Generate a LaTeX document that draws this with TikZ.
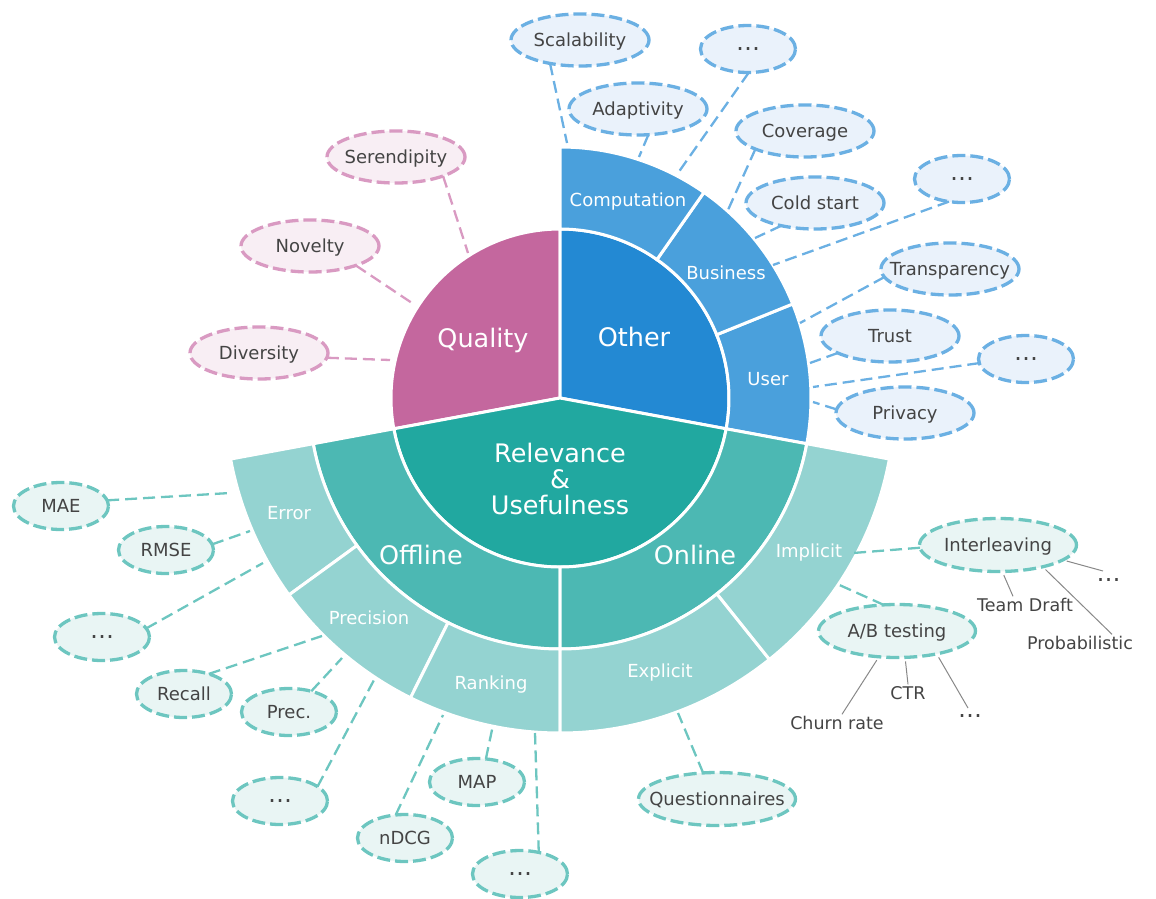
\documentclass[tikz,border=0pt]{standalone}
\usepackage{fontspec}
\setmainfont{DejaVu Sans}
\usetikzlibrary{shapes.geometric}
\definecolor{cQual}{HTML}{C4679E}
\definecolor{cOther}{HTML}{2389D3}
\definecolor{cOtherB}{HTML}{4AA0DC}
\definecolor{cRel}{HTML}{21A8A0}
\definecolor{cRelB}{HTML}{4CB8B3}
\definecolor{cRelC}{HTML}{94D3D1}
\definecolor{bLine}{HTML}{6BB0E3}
\definecolor{bFill}{HTML}{EAF2FB}
\definecolor{pLine}{HTML}{D99AC2}
\definecolor{pFill}{HTML}{F8EEF4}
\definecolor{tLine}{HTML}{6DC6C0}
\definecolor{tFill}{HTML}{E9F5F4}
\definecolor{txt}{HTML}{444444}
\definecolor{gLn}{HTML}{888888}
\newcommand\lbx[1]{\makebox[0pt]{#1}}
\newcommand\mdots{{\fontsize{24}{24}\selectfont\raisebox{4.8pt}{…}}}
\newcommand\ringsec[5]{\filldraw[sector, fill=#1] (#2:#4) arc[start angle=#2, end angle=#3, radius=#4] -- (#3:#5) arc[start angle=#3, end angle=#2, radius=#5] -- cycle;}
\begin{document}
\begin{tikzpicture}[x=1pt, y=-1pt,
  leaf/.style={ellipse, line width=3.3pt, dash pattern=on 13pt off 5pt, inner sep=0pt, outer sep=0pt,
    minimum width=138pt, minimum height=52pt, text=txt, font=\fontsize{18}{18}\selectfont, text height=13pt, text depth=0pt},
  bleaf/.style={leaf, draw=bLine, fill=bFill},
  pleaf/.style={leaf, draw=pLine, fill=pFill},
  tleaf/.style={leaf, draw=tLine, fill=tFill},
  leafS/.style={minimum width=95pt, minimum height=47pt},
  leafW/.style={minimum width=157pt, minimum height=53pt},
  conn/.style={line width=2.3pt, dash pattern=on 12pt off 6pt},
  bconn/.style={conn, draw=bLine},
  pconn/.style={conn, draw=pLine},
  tconn/.style={conn, draw=tLine},
  sector/.style={draw=white, line width=3pt},
  bigl/.style={text=white, font=\fontsize{25.5}{26}\selectfont, inner sep=0pt, text height=18.6pt, text depth=0pt},
  midl/.style={text=white, font=\fontsize{18}{18}\selectfont, inner sep=0pt, text height=13pt, text depth=0pt},
  glab/.style={text=txt, font=\fontsize{17.5}{18}\selectfont, inner sep=2pt, text height=13pt, text depth=0pt},
  gconn/.style={draw=gLn, line width=1pt, shorten <=4pt}
]
\useasboundingbox (0,0) rectangle (1156,899);

% ---------- sunburst ----------
\begin{scope}[shift={(560,398)}, y=1pt]
  \filldraw[sector, fill=cQual] (0,0) -- (90:169) arc[start angle=90, end angle=190.5, radius=169] -- cycle;
  \filldraw[sector, fill=cOther] (0,0) -- (-10.5:169) arc[start angle=-10.5, end angle=90, radius=169] -- cycle;
  \filldraw[sector, fill=cRel] (0,0) -- (190.5:169) arc[start angle=190.5, end angle=349.5, radius=169] -- cycle;
  \ringsec{cOtherB}{-10.5}{22}{169}{251}
  \ringsec{cOtherB}{22}{55}{169}{251}
  \ringsec{cOtherB}{55}{90}{169}{251}
  \ringsec{cRelB}{190.5}{270}{169}{251}
  \ringsec{cRelB}{270}{349.5}{169}{251}
  \ringsec{cRelC}{190.5}{216}{251}{335}
  \ringsec{cRelC}{216}{243.5}{251}{335}
  \ringsec{cRelC}{243.5}{270}{251}{335}
  \ringsec{cRelC}{270}{308.7}{251}{335}
  \ringsec{cRelC}{308.7}{349.5}{251}{335}
\end{scope}

% ---------- sector labels ----------
\node[bigl] (lQual) at (483,338) {Quality};
\node[bigl] (lOther) at (634,337) {Other};
\node[text=white, font=\fontsize{25.5}{26}\selectfont, inner sep=0pt, align=center] (lRel) at (560,479) {Relevance\\\&\\Usefulness};
\node[bigl] (lOff) at (421,555) {Offline};
\node[bigl] (lOn) at (695,555) {Online};
\node[midl] (lComp) at (628,200) {Computation};
\node[midl] (lBus) at (726,273) {Business};
\node[midl] (lUser) at (768,379) {User};
\node[midl] (lErr) at (289,513) {Error};
\node[midl] (lPrec) at (369,618) {Precision};
\node[midl] (lRank) at (491,683) {Ranking};
\node[midl] (lExp) at (660,671) {Explicit};
\node[midl] (lImp) at (809,551) {Implicit};

% ---------- connector ends at the rings ----------
\coordinate (scal-e) at (567,143);
\coordinate (adap-e) at (639,157);
\coordinate (dotsA-e) at (678,173);
\coordinate (cov-e) at (728,210);
\coordinate (cold-e) at (755,238);
\coordinate (dotsB-e) at (773,265);
\coordinate (trans-e) at (800,323);
\coordinate (trust-e) at (810,363);
\coordinate (dotsC-e) at (813,387);
\coordinate (priv-e) at (813,402);
\coordinate (seren-e) at (468,253);
\coordinate (nov-e) at (415,305);
\coordinate (div-e) at (390,360);
\coordinate (mae-e) at (230,493);
\coordinate (rmse-e) at (250,531);
\coordinate (dotsD-e) at (263,563);
\coordinate (recall-e) at (322,636);
\coordinate (prec-e) at (342,658);
\coordinate (dotsE-e) at (374,680);
\coordinate (ndcg-e) at (443,715);
\coordinate (map-e) at (493,725);
\coordinate (dotsF-e) at (535,733);
\coordinate (quest-e) at (678,713);
\coordinate (inter-e) at (853,553);
\coordinate (ab-e) at (835,583);

% ---------- leaves: Other ----------
\node[bleaf] (scal) at (580,40) {\lbx{Scalability}};
\node[bleaf] (adap) at (638,109) {\lbx{Adaptivity}};
\node[bleaf, leafS] (dotsA) at (748,49) {\lbx{\mdots}};
\node[bleaf] (cov) at (805,131) {\lbx{Coverage}};
\node[bleaf] (cold) at (815,203) {\lbx{Cold start}};
\node[bleaf, leafS] (dotsB) at (962,179) {\lbx{\mdots}};
\node[bleaf] (trans) at (950,269) {\lbx{Transparency}};
\node[bleaf] (trust) at (890,336) {\lbx{Trust}};
\node[bleaf, leafS] (dotsC) at (1026,359) {\lbx{\mdots}};
\node[bleaf] (priv) at (905,413) {\lbx{Privacy}};

% ---------- leaves: Quality ----------
\node[pleaf] (seren) at (396,157) {\lbx{Serendipity}};
\node[pleaf] (nov) at (310,246) {\lbx{Novelty}};
\node[pleaf] (div) at (259,353) {\lbx{Diversity}};

% ---------- leaves: Relevance ----------
\node[tleaf, leafS] (mae) at (61,506) {\lbx{MAE}};
\node[tleaf, leafS] (rmse) at (166,550) {\lbx{RMSE}};
\node[tleaf, leafS] (dotsD) at (102,637) {\lbx{\mdots}};
\node[tleaf, leafS] (recall) at (184,694) {\lbx{Recall}};
\node[tleaf, leafS] (prec) at (289,712) {\lbx{Prec.}};
\node[tleaf, leafS] (dotsE) at (280,801) {\lbx{\mdots}};
\node[tleaf, leafS] (ndcg) at (405,838) {\lbx{nDCG}};
\node[tleaf, leafS] (map) at (477,782) {\lbx{MAP}};
\node[tleaf, leafS] (dotsF) at (520,874) {\lbx{\mdots}};
\node[tleaf, leafW] (quest) at (717,799) {\lbx{Questionnaires}};
\node[tleaf, leafW] (inter) at (998,545) {\lbx{Interleaving}};
\node[tleaf, leafW] (ab) at (897,631) {\lbx{A/B testing}};

% ---------- connectors ----------
\draw[bconn] (scal.218.7) -- (scal-e);
\draw[bconn] (adap.292.5) -- (adap-e);
\draw[bconn] (dotsA.272) -- (dotsA-e);
\draw[bconn] (cov.200.2) -- (cov-e);
\draw[bconn] (cold.214.4) -- (cold-e);
\draw[bconn] (dotsB.240) -- (dotsB-e);
\draw[bconn] (trans.187.3) -- (trans-e);
\draw[bconn] (trust.198.4) -- (trust-e);
\draw[bconn] (dotsC.185.3) -- (dotsC-e);
\draw[bconn] (priv.177.5) -- (priv-e);
\draw[pconn] (seren.338) -- (seren-e);
\draw[pconn] (nov.337.1) -- (nov-e);
\draw[pconn] (div.356.9) -- (div-e);
\draw[tconn] (mae.7) -- (mae-e);
\draw[tconn] (rmse.7.7) -- (rmse-e);
\draw[tconn] (dotsD.11.1) -- (dotsD-e);
\draw[tconn] (recall.39.4) -- (recall-e);
\draw[tconn] (prec.43) -- (prec-e);
\draw[tconn] (dotsE.21.4) -- (dotsE-e);
\draw[tconn] (ndcg.112.5) -- (ndcg-e);
\draw[tconn] (map.69.7) -- (map-e);
\draw[tconn] (dotsF.49.6) -- (dotsF-e);
\draw[tconn] (quest.118) -- (quest-e);
\draw[tconn] (inter.182) -- (inter-e);
\draw[tconn] (ab.117) -- (ab-e);

% ---------- gray sub-labels ----------
\node[glab] (td) at (1025,605) {Team Draft};
\node[glab] (prob) at (1080,643) {Probabilistic};
\node[glab, inner sep=0pt] (dI) at (1108.5,580) {\mdots};
\node[glab] (ctr) at (908,693) {CTR};
\node[glab] (churn) at (837,723) {Churn rate};
\node[glab, inner sep=0pt] (dAB) at (970,716) {\mdots};

\draw[gconn] (inter.279) -- ([xshift=-12pt]td.north);
\draw[gconn] (inter.334.7) -- ([xshift=32pt]prob.north);
\draw[gconn] (inter.347.6) -- ([xshift=-5.5pt,yshift=9pt]dI.center);
\draw[gconn] (ab.287.4) -- (ctr.north);
\draw[gconn] (ab.235.9) -- ([xshift=5pt]churn.north);
\draw[gconn] (ab.330.6) -- ([xshift=-2pt,yshift=8pt]dAB.center);
\end{tikzpicture}
\end{document}
